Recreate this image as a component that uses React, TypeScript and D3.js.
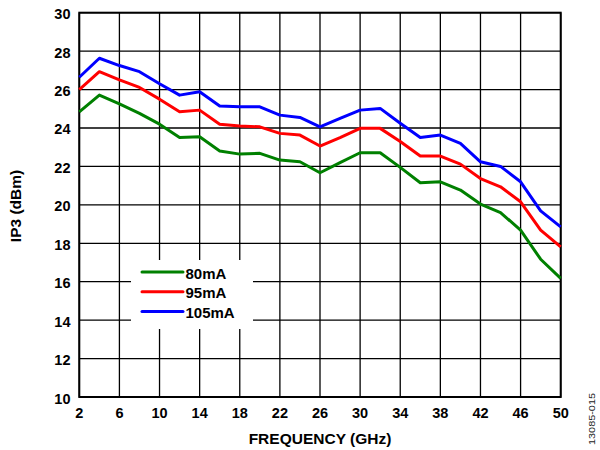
import React from 'react';
import * as d3 from 'd3';

const freqs = [2, 4, 6, 8, 10, 12, 14, 16, 18, 20, 22, 24, 26, 28, 30, 32, 34, 36, 38, 40, 42, 44, 46, 48, 50];
const ip3_80mA = [24.84, 25.71, 25.25, 24.76, 24.2, 23.51, 23.54, 22.8, 22.64, 22.68, 22.33, 22.24, 21.67, 22.2, 22.71, 22.71, 21.95, 21.15, 21.2, 20.77, 20.04, 19.6, 18.68, 17.17, 16.17];
const ip3_95mA = [26.0, 26.93, 26.5, 26.11, 25.5, 24.84, 24.93, 24.2, 24.1, 24.06, 23.72, 23.63, 23.06, 23.5, 23.98, 23.98, 23.3, 22.54, 22.54, 22.12, 21.37, 20.94, 20.16, 18.68, 17.81];
const ip3_105mA = [26.64, 27.63, 27.25, 26.93, 26.3, 25.71, 25.89, 25.14, 25.1, 25.1, 24.67, 24.55, 24.06, 24.5, 24.93, 25.02, 24.25, 23.51, 23.63, 23.2, 22.24, 22.0, 21.2, 19.69, 18.85];

const xTicks = [2, 6, 10, 14, 18, 22, 26, 30, 34, 38, 42, 46, 50];
const yTicks = [10, 12, 14, 16, 18, 20, 22, 24, 26, 28, 30];

const seriesNames = ['80mA', '95mA', '105mA'];
const seriesColors = ['#008000', '#ff0000', '#0000ff'];
const seriesData = [ip3_80mA, ip3_95mA, ip3_105mA];

const font = '"Liberation Sans", Arial, sans-serif';

export default function App() {
  // plot frame
  const left = 79.3, right = 560.7, top = 12.7, bottom = 397;
  const x = d3.scaleLinear().domain([2, 50]).range([left, right]);
  const y = d3.scaleLinear().domain([10, 30]).range([bottom, top]);

  const line = d3.line<number>()
    .x((_, i) => x(freqs[i]))
    .y(d => y(d));

  // legend box (white patch over the grid)
  const lg = { x: 131, y: 260, w: 122, h: 69 };

  return (
    <div style={{ position: 'absolute', left: 0, top: 0 }}>
      <svg width={600} height={450} style={{ display: 'block', background: '#fff' }}>
        {/* grid */}
        {xTicks.map(t => (
          <line key={'gx' + t} x1={x(t)} x2={x(t)} y1={top} y2={bottom} stroke="#000" strokeWidth={1.3} />
        ))}
        {yTicks.map(t => (
          <line key={'gy' + t} x1={left} x2={right} y1={y(t)} y2={y(t)} stroke="#000" strokeWidth={1.3} />
        ))}

        {/* legend background */}
        <rect x={lg.x} y={lg.y} width={lg.w} height={lg.h} fill="#fff" />

        {/* frame */}
        <rect x={left} y={top} width={right - left} height={bottom - top} fill="none" stroke="#000" strokeWidth={2} />

        {/* series */}
        {seriesData.map((vals, i) => (
          <path key={seriesNames[i]} d={line(vals) || ''} fill="none" stroke={seriesColors[i]}
            strokeWidth={3} strokeLinejoin="round" />
        ))}

        {/* legend */}
        {seriesNames.map((name, i) => (
          <g key={'lg' + name}>
            <line x1={142} x2={183} y1={272 + i * 19.8} y2={272 + i * 19.8} stroke={seriesColors[i]} strokeWidth={3} strokeLinecap="round" />
            <text x={185.5} y={272 + i * 19.8 + 6.5} fontFamily={font} fontWeight="bold" fontSize={15}>{name}</text>
          </g>
        ))}

        {/* axis tick labels */}
        {yTicks.map(t => (
          <text key={'ly' + t} x={70.5} y={y(t) + 6.5} textAnchor="end" fontFamily={font} fontWeight="bold" fontSize={14.5}>{t}</text>
        ))}
        {xTicks.map(t => (
          <text key={'lx' + t} x={x(t)} y={418} textAnchor="middle" fontFamily={font} fontWeight="bold" fontSize={14.5}>{t}</text>
        ))}

        {/* axis titles */}
        <text x={320} y={443.5} textAnchor="middle" fontFamily={font} fontWeight="bold" fontSize={15.5}>FREQUENCY (GHz)</text>
        <text transform={`translate(21,206) rotate(-90)`} textAnchor="middle" fontFamily={font} fontWeight="bold" fontSize={15.5}>IP3 (dBm)</text>

        {/* figure id */}
        <text transform="translate(595,419) rotate(-90)" textAnchor="middle" fontFamily={font} fontSize={9.5}
          textLength={52} lengthAdjust="spacingAndGlyphs" fill="#222">13085-015</text>
      </svg>
    </div>
  );
}
